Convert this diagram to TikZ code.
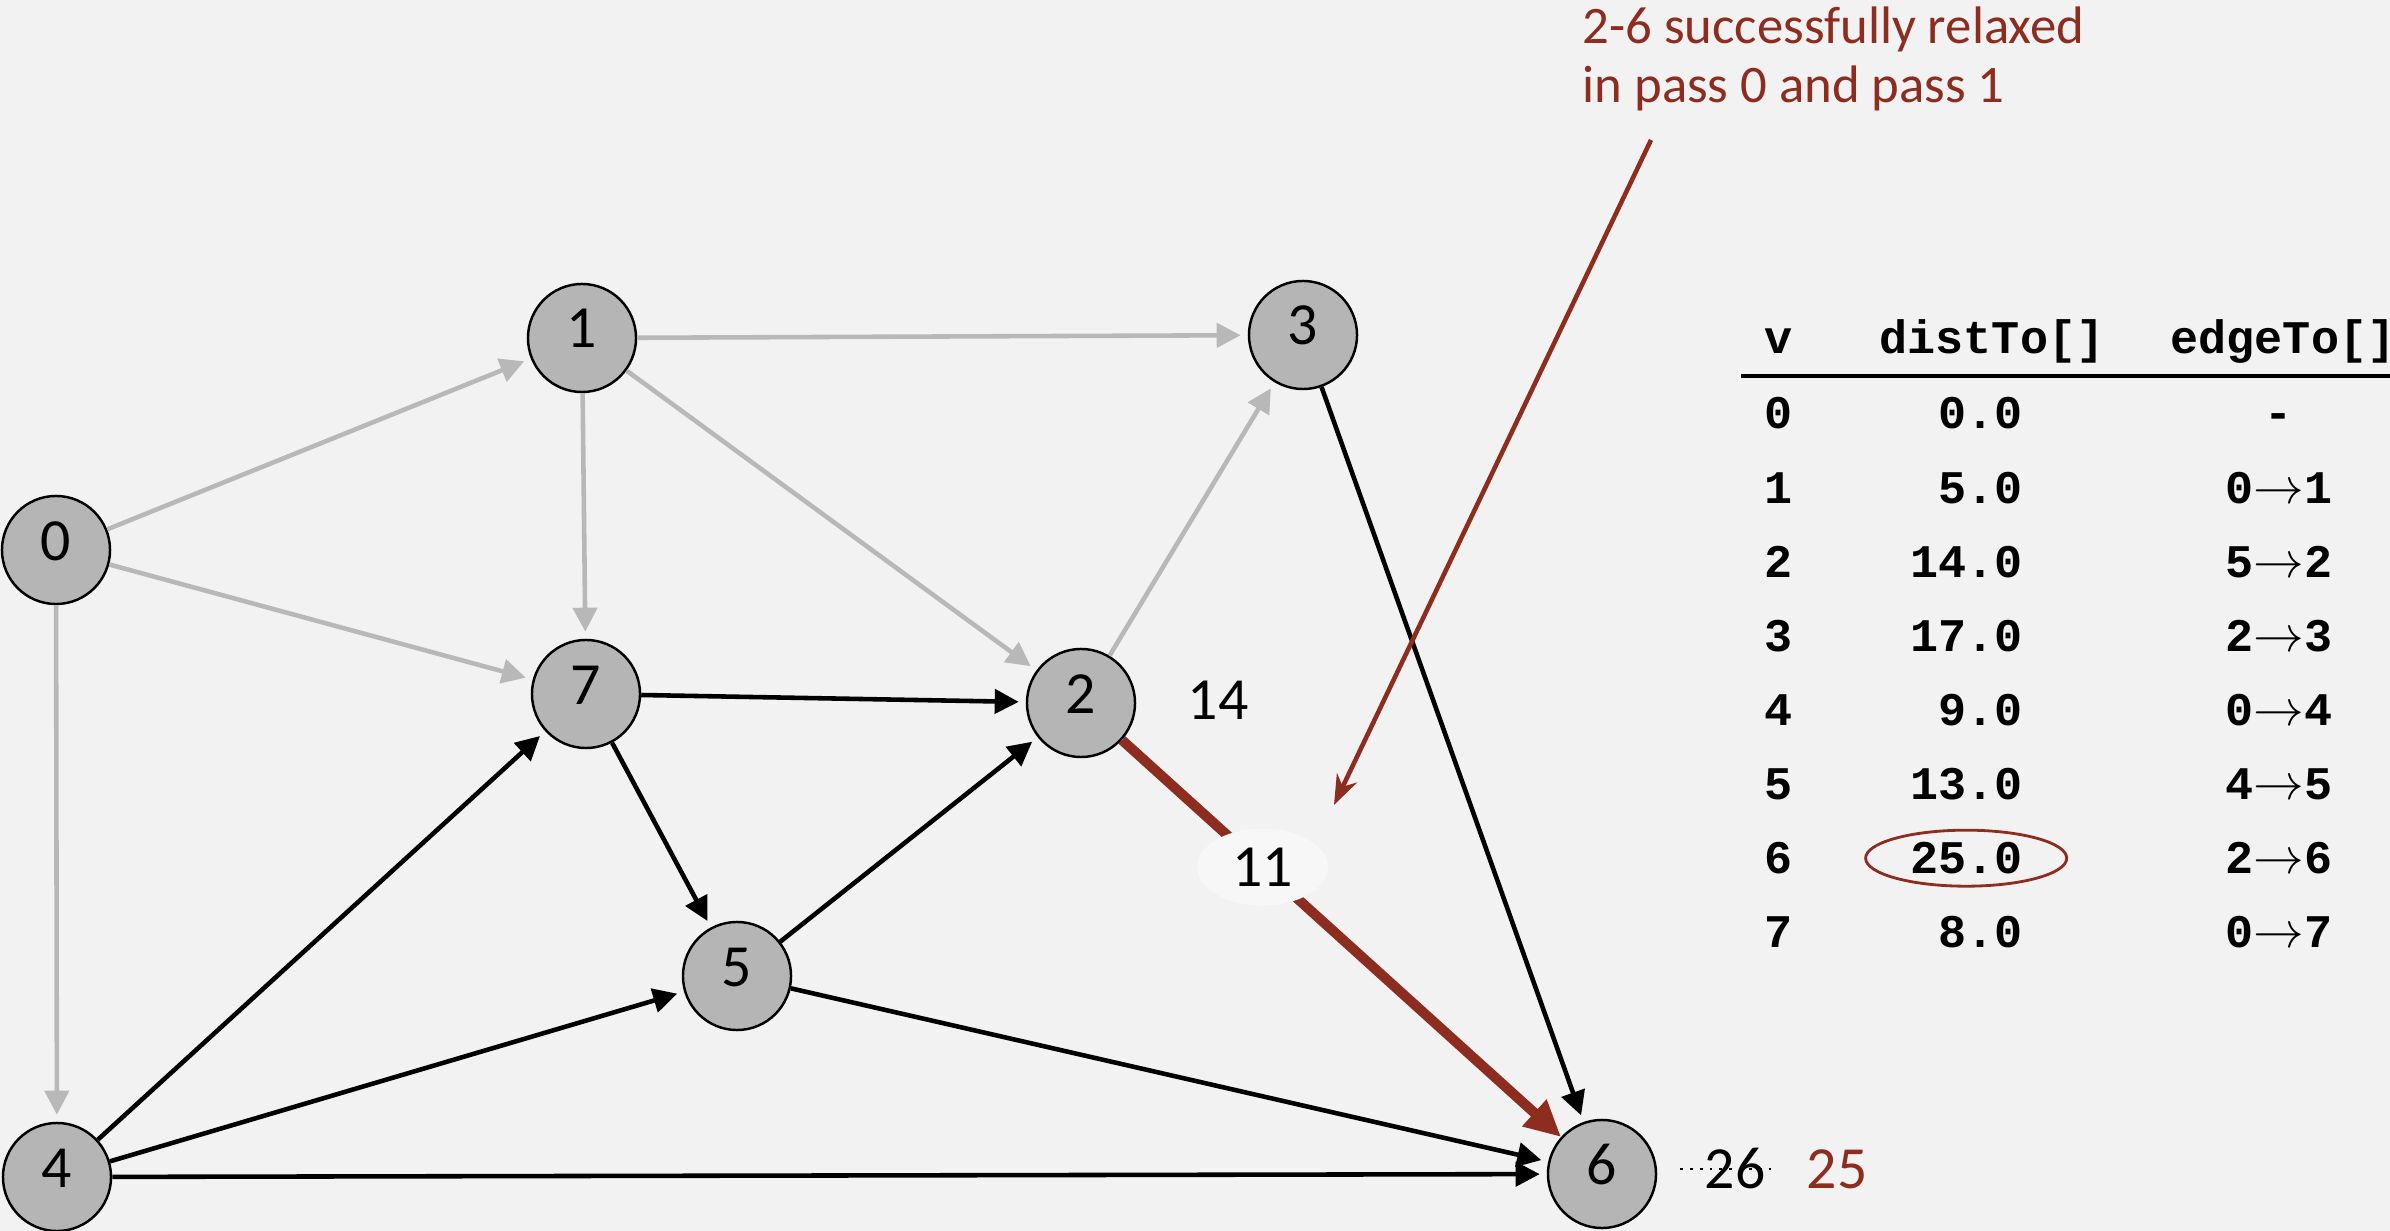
\documentclass[tikz,border=0pt]{standalone}
\usepackage{fontspec}
\setmainfont{Carlito}
\setmonofont{Liberation Mono}
\usetikzlibrary{arrows.meta,shapes.geometric}
\definecolor{relaxred}{RGB}{140,45,32}
\definecolor{slidegray}{RGB}{242,242,242}
\definecolor{vertgray}{RGB}{181,181,181}
\definecolor{edgegray}{RGB}{184,184,184}
\definecolor{labelwhite}{RGB}{247,247,247}

\begin{document}
\begin{tikzpicture}[
      x=0.01cm, y=-0.01cm,
      font=\fontsize{17}{18}\selectfont,
      vert/.style={draw, circle, line width=0.7pt, fill=vertgray,
        minimum size=1.08cm, inner sep=0pt, text height=0.4cm, text depth=0.2cm},
      arr/.style={-{Triangle[length=0.24cm, width=0.24cm]}, line width=1.3pt,
        shorten >=2pt},
      old/.style={arr, edgegray},
      cur/.style={arr, black},
      relax/.style={-{Triangle[length=0.36cm, width=0.34cm]}, line width=2.85pt,
        relaxred},
      lbl/.style={inner sep=0pt},
      elbl/.style={ellipse, fill=labelwhite, minimum width=1.31cm,
        minimum height=0.77cm, inner sep=0pt, text=black},
      tab/.style={font=\fontsize{13.3}{15}\selectfont\ttfamily\bfseries,
        inner sep=0pt}
    ]
    \fill[slidegray] (0,0) rectangle (2390,1231);
    \useasboundingbox (0,0) rectangle (2390,1231);

    \node[vert] (v0) at (56,550) {0};
    \node[vert] (v1) at (582,338) {1};
    \node[vert] (v3) at (1303,335) {3};
    \node[vert] (v7) at (586,694) {7};
    \node[vert] (v2) at (1081,703) {2};
    \node[vert] (v5) at (737,976) {5};
    \node[vert] (v4) at (57,1177) {4};
    \node[vert] (v6) at (1602,1174) {6};

    \draw[old] (v0) -- (v1);
    \draw[old] (v0) -- (v7);
    \draw[old] (v0) -- (v4);
    \draw[old] (v1) -- (v3);
    \draw[old] (v1) -- (v7);
    \draw[old] (v1) -- (v2);
    \draw[old] (v2) -- (v3);

    \draw[cur] (v7) -- (v2);
    \draw[cur] (v7) -- (v5);
    \draw[cur] (v5) -- (v2);
    \draw[cur] (v4) -- (v7);
    \draw[cur] (v4) -- (v5);
    \draw[cur] (v4) -- (v6);
    \draw[cur] (v5) -- (v6);
    \draw[cur] (v3) -- (v6);
    \draw[relax] (v2) -- node[elbl, pos=0.32] (w26) {11} (v6);

    \node[lbl] (d2) at (1218,700) {14};
    \node[lbl] (old6) at (1735,1169) {26};
    \draw[dotted, line width=0.8pt] ([xshift=-0.24cm]old6.west) -- ([xshift=0.1cm]old6.east);
    \node[lbl, text=relaxred] (new6) at (1837,1169) {25};

    \node[lbl, text=relaxred, anchor=north west, align=left,
      font=\fontsize{15}{16.8}\selectfont] (note) at (1582,6)
      {2-6 successfully relaxed\\in pass 0 and pass 1};
    \coordinate (nfrom) at (1651,140);
    \coordinate (nto) at (1334,805);
    \draw[-{Stealth[length=0.3cm, width=0.22cm]}, line width=1.3pt, relaxred] (nfrom) -- (nto);

    % table
    \node[tab, anchor=base] (hv) at (1779,354) {v};
    \node[tab, anchor=base] (hd) at (1992,354) {distTo[]};
    \node[tab, anchor=base west] (he) at (2170,354) {edgeTo[]};
    \draw[line width=0.9pt] (1741,376) -- (2390,376);
    \foreach \v/\d/\e in {0/0.0/-, 1/5.0/0\(\rightarrow\)1, 2/14.0/5\(\rightarrow\)2,
        3/17.0/2\(\rightarrow\)3, 4/9.0/0\(\rightarrow\)4, 5/13.0/4\(\rightarrow\)5,
        6/25.0/2\(\rightarrow\)6, 7/8.0/0\(\rightarrow\)7} {
      \pgfmathsetmacro{\rowy}{429+74.1*\v}
      \node[tab, anchor=base] (r\v) at (1779,\rowy) {\v};
      \node[tab, anchor=base east] (d\v) at (2023,\rowy) {\d};
      \node[tab, anchor=base] (e\v) at (2279,\rowy) {\e};
    }
    \node[draw=relaxred, ellipse, line width=0.8pt, minimum width=2.01cm,
      minimum height=0.56cm] (ring) at (d6.center) {};
  \end{tikzpicture}
\end{document}
